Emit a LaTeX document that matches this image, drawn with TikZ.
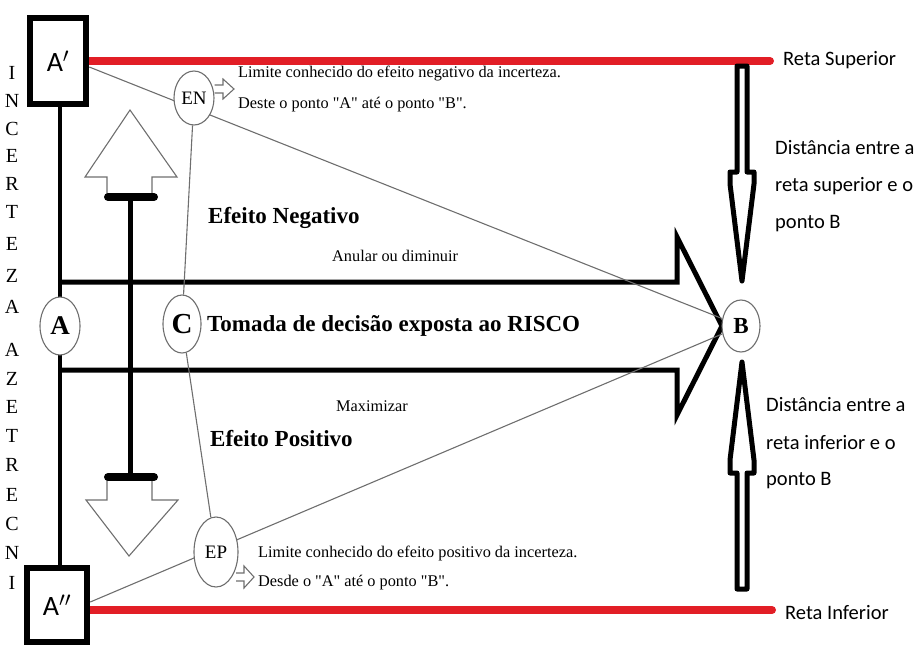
\documentclass[tikz,border=0pt]{standalone}
\usepackage{fontspec}
\setmainfont{Liberation Serif}[Ligatures=TeXOff]
\newfontfamily\calfont{Carlito}
\usetikzlibrary{shapes.geometric,backgrounds}
\definecolor{rred}{RGB}{226,30,38}
\definecolor{thin}{RGB}{110,110,110}
\begin{document}
\begin{tikzpicture}[x=1pt,y=-1pt,
  ell/.style={ellipse,draw=thin,line width=1.1pt,fill=white,inner sep=0pt},
  boxn/.style={draw=black,line width=6.5pt,fill=white,inner sep=0pt,font=\calfont\fontsize{28}{28}\selectfont},
  thinl/.style={draw=thin,line width=1.1pt},
  redl/.style={draw=rred,line width=8pt,line cap=round},
  fat/.style={draw=black,line width=5pt,line join=miter},
  hollow/.style={draw=thin,line width=1.1pt,line join=miter},
  txt/.style={anchor=west,inner sep=0pt},
  small/.style={txt,font=\fontsize{16.3}{16.3}\selectfont},
  sans/.style={txt,font=\calfont\fontsize{20.5}{20.5}\selectfont},
  big/.style={txt,font=\bfseries\fontsize{23}{23}\selectfont},
  vlet/.style={font=\fontsize{20}{20}\selectfont,inner sep=0pt}
]
\useasboundingbox (0,0) rectangle (919,651);

% boxes
\node[boxn,minimum width=56pt,minimum height=86pt] (Ap) at (58,61) {A$'$};
\node[boxn,minimum width=60pt,minimum height=74pt] (App) at (57,605) {A$''$};

% ellipses
\node[ell,minimum width=40pt,minimum height=58pt,font=\bfseries\fontsize{27}{27}\selectfont] (A) at (60,326) {A};
\node[ell,minimum width=38pt,minimum height=58pt,font=\bfseries\fontsize{29}{29}\selectfont] (C) at (182,324) {C};
\node[ell,minimum width=38pt,minimum height=52pt,font=\bfseries\fontsize{23}{23}\selectfont] (B) at (741,326) {B};
\node[ell,minimum width=40pt,minimum height=54pt,font=\fontsize{19}{19}\selectfont] (EN) at (194,98) {EN};
\node[ell,minimum width=44pt,minimum height=70pt,font=\fontsize{19}{19}\selectfont] (EP) at (216,552) {EP};

% texts
\node[big] (tom) at (207,326) {Tomada de decisão exposta ao RISCO};
\node[big] (neg) at (208,218) {Efeito Negativo};
\node[big] (pos) at (210,439) {Efeito Positivo};
\node[small] (anu) at (332,256) {Anular ou diminuir};
\node[small] (max) at (336,406) {Maximizar};
\node[small] (en1) at (238,74) {Limite conhecido do efeito negativo da incerteza.};
\node[small] (en2) at (238,105) {Deste o ponto "A" até o ponto "B".};
\node[small] (ep1) at (258,553) {Limite conhecido do efeito positivo da incerteza.};
\node[small] (ep2) at (258,583) {Desde o "A" até o ponto "B".};
\node[sans] (rs) at (783,60) {Reta Superior};
\node[sans] (ri) at (785,613) {Reta Inferior};
\node[sans] (d1) at (775,148) {Distância entre a};
\node[sans] (d2) at (775,186) {reta superior e o};
\node[sans] (d3) at (775,224) {ponto B};
\node[sans] (d4) at (766,405) {Distância entre a};
\node[sans] (d5) at (766,443) {reta inferior e o};
\node[sans] (d6) at (766,481) {ponto B};

\foreach \l/\yy [count=\i] in {I/73,N/101,C/129,E/156,R/184,T/212,E/244,Z/276,A/307,A/350,Z/379,E/407,T/436,R/465,E/495,C/524,N/553,I/583}
  \node[vlet] (v\i) at (12,\yy) {\l};

\coordinate (rsE) at (770,61);
\coordinate (riE) at (772,610);

\begin{scope}[on background layer]
  \draw[redl] (Ap.east) -- (rsE);
  \draw[redl] (App.east |- riE) -- (riE);
  \draw[line width=4.5pt] ([xshift=2pt]Ap.south) -- ([xshift=3pt]App.north);
  % central arrow
  \draw[fat] (60,282) -- (677,282) -- (677,237) -- (722,326) -- (677,415) -- (677,370) -- (60,370);
  % thin lines
  \draw[thinl] ([yshift=-6pt]Ap.east) -- (B);
  \draw[thinl] ([yshift=3pt]App.east) -- (B);
  \draw[thinl] (EN) -- (C);
  \draw[thinl] (C) -- (EP);
\end{scope}

% right distance arrows
\draw[line width=5pt,line join=round,fill=white] (737,66) -- (737,172) -- (730,172) -- (730,184) -- (742,281) -- (754,184) -- (754,172) -- (747,172) -- (747,66) -- cycle;
\draw[line width=5pt,line join=round,fill=white] (742,362) -- (730,460) -- (730,473) -- (737,473) -- (737,589) -- (747,589) -- (747,473) -- (754,473) -- (754,460) -- cycle;

% left hollow arrows and bar
\draw[hollow] (107,196) -- (107,177) -- (85,177) -- (130,110) -- (177,177) -- (152,177) -- (152,196);
\draw[hollow] (107,480) -- (107,500) -- (86,500) -- (129,556) -- (178,500) -- (152,500) -- (152,480);
\draw[line width=5pt] (130,196) -- (130,478);
\draw[line width=8pt,line cap=round] (108,197) -- (154,197);
\draw[line width=8pt,line cap=round] (108,477) -- (154,477);

% small hollow arrows
\draw[hollow] (EN.east |- 0,85) -- (223,85) -- (223,79) -- (234,89) -- (223,99) -- (223,93) -- (EN.east |- 0,93);
\draw[hollow] (236,573) -- (244,573) -- (244,566) -- (254,577) -- (244,588) -- (244,581) -- (236,581);
\end{tikzpicture}
\end{document}
